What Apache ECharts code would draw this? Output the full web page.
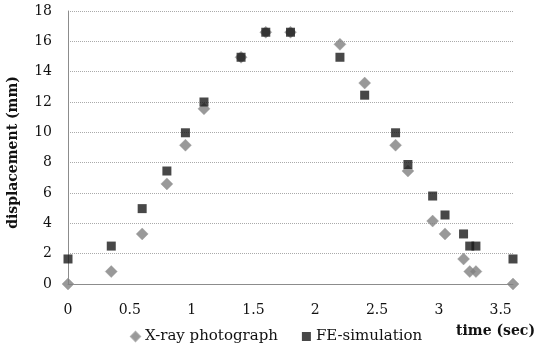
<!DOCTYPE html>
<html><head><meta charset="utf-8">
<script src="https://cdn.jsdelivr.net/npm/echarts@6/dist/echarts.min.js"></script>
<style>html,body{margin:0;padding:0;background:#fff}#c{width:535px;height:345px}</style>
</head><body><div id="c"></div>
<script>
const times = [0, 0.35, 0.6, 0.8, 0.95, 1.1, 1.4, 1.6, 1.8, 2.2, 2.4, 2.65, 2.75, 2.95, 3.05, 3.2, 3.25, 3.3, 3.6];
const xrayValues = [0, 0.82, 3.3, 6.6, 9.15, 11.55, 14.95, 16.6, 16.6, 15.8, 13.25, 9.15, 7.45, 4.15, 3.3, 1.65, 0.82, 0.82, 0];
const feValues = [1.65, 2.5, 4.97, 7.45, 9.97, 12.0, 14.95, 16.6, 16.6, 14.95, 12.45, 9.97, 7.88, 5.8, 4.55, 3.3, 2.5, 2.5, 1.65];
const seriesNames = ['X-ray photograph', 'FE-simulation'];
const xAxisName = 'time (sec)';
const yAxisName = 'displacement (mm)';

const font = 'DejaVu Serif';
const chart = echarts.init(document.getElementById('c'), null, {renderer: 'canvas'});
chart.setOption({
  animation: false,
  backgroundColor: '#fff',
  grid: {left: 68, right: 22, top: 11, bottom: 61, containLabel: false, outerBoundsMode: 'none'},
  legend: {
    left: 125, top: 324, itemWidth: 9, itemHeight: 9, itemGap: 24,
    textStyle: {fontFamily: font, fontSize: 15, color: '#111'},
    data: [{name: seriesNames[0], icon: 'diamond'}, {name: seriesNames[1], icon: 'rect'}]
  },
  xAxis: {
    type: 'value', min: 0, max: 3.6, interval: 0.5,
    name: xAxisName, nameLocation: 'end', nameGap: 22,
    nameTextStyle: {fontFamily: font, fontSize: 14, fontWeight: 'bold', color: '#111', align: 'right', verticalAlign: 'top', padding: [40, 0, 0, 0]},
    axisLine: {show: true, lineStyle: {color: '#8c8c8c', width: 1}},
    axisTick: {show: false},
    splitLine: {show: false},
    axisLabel: {fontFamily: font, fontSize: 14, color: '#111', margin: 19, showMaxLabel: false}
  },
  yAxis: {
    type: 'value', min: 0, max: 18, interval: 2,
    name: yAxisName, nameLocation: 'middle', nameGap: 48,
    nameTextStyle: {fontFamily: font, fontSize: 14, fontWeight: 'bold', color: '#111', padding: [0, 10, 0, 0]},
    axisLine: {show: true, lineStyle: {color: '#8c8c8c', width: 1}},
    axisTick: {show: false},
    splitLine: {show: true, lineStyle: {color: '#aaaaaa', type: 'dotted', width: 1}},
    axisLabel: {fontFamily: font, fontSize: 14, color: '#111', margin: 16}
  },
  series: [
    {
      name: seriesNames[0], type: 'scatter', symbol: 'diamond', symbolSize: 12,
      itemStyle: {color: '#7f7f7f', borderColor: '#9a9a9a', borderWidth: 0.5},
      data: times.map((t, i) => [t, xrayValues[i]]), z: 2
    },
    {
      name: seriesNames[1], type: 'scatter', symbol: 'rect', symbolSize: 9,
      itemStyle: {color: '#1a1a1a'},
      data: times.map((t, i) => [t, feValues[i]]), z: 3
    }
  ]
});
</script></body></html>
